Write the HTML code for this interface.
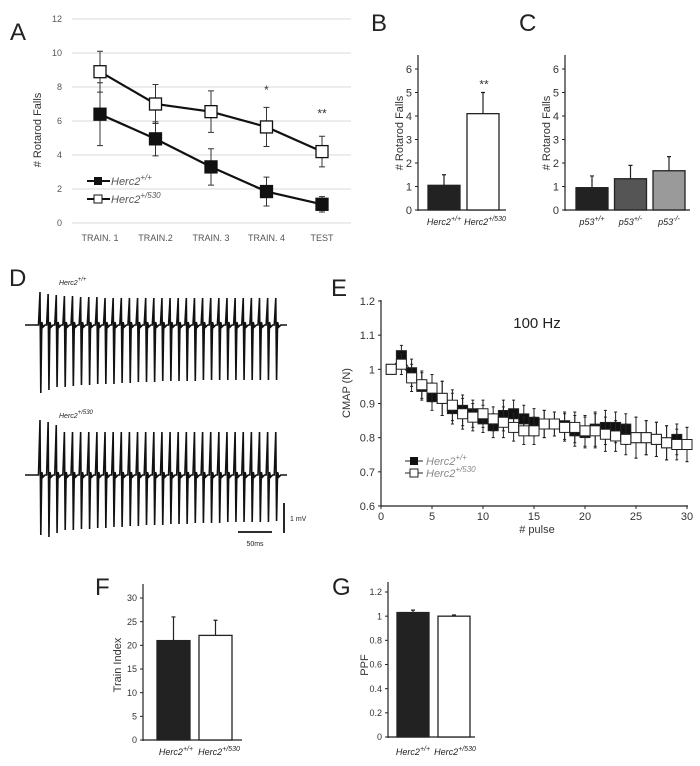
<!DOCTYPE html>
<html><head><meta charset="utf-8"><style>
html,body{margin:0;padding:0;background:#fff;}
svg{display:block;font-family:"Liberation Sans",Arial,sans-serif;}
</style></head><body>
<svg id="fig" width="700" height="766" viewBox="0 0 700 766" xmlns="http://www.w3.org/2000/svg">
<g id="gA"></g>
<g id="gB"></g>
<g id="gC"></g>
<g id="gD"></g>
<g id="gE"></g>
<g id="gF"></g>
<g id="gG"></g>
</svg>
<script>
// Panel A data
const aCategories = ["TRAIN. 1","TRAIN.2","TRAIN. 3","TRAIN. 4","TEST"];
const aWildValues = [6.4,4.95,3.3,1.85,1.1];
const aWildErr = [1.85,1.0,1.07,0.85,0.45];
const aMutValues = [8.9,7.0,6.55,5.65,4.2];
const aMutErr = [1.2,1.15,1.22,1.15,0.9];
const aTicks = [0,2,4,6,8,10,12];
// Panel B
const bCategories = ["+/+","+/530"];
const bValues = [1.05,4.1];
const bErr = [0.45,0.9];
// Panel C
const cCategories = ["+/+","+/-","-/-"];
const cValues = [0.95,1.33,1.67];
const cErr = [0.5,0.57,0.6];
const bcTicks = [0,1,2,3,4,5,6];
// Panel E
const ePulses = [1,2,3,4,5,6,7,8,9,10,11,12,13,14,15,16,17,18,19,20,21,22,23,24,25,26,27,28,29,30];
const eWild = [1.0,1.04,0.99,0.95,0.92,0.915,0.885,0.88,0.87,0.855,0.835,0.865,0.87,0.855,0.845,0.84,0.84,0.835,0.82,0.815,0.825,0.83,0.83,0.825,0.80,0.80,0.795,0.785,0.795,0.78];
const eMut = [1.0,1.015,0.975,0.955,0.945,0.915,0.895,0.87,0.86,0.87,0.855,0.845,0.83,0.82,0.82,0.84,0.84,0.83,0.83,0.82,0.82,0.81,0.805,0.795,0.80,0.80,0.795,0.785,0.78,0.78];
const eErr = [0,0.03,0.04,0.04,0.04,0.05,0.045,0.045,0.04,0.04,0.035,0.045,0.04,0.04,0.04,0.04,0.035,0.04,0.045,0.045,0.05,0.05,0.045,0.045,0.06,0.05,0.05,0.05,0.045,0.05];
const eXTicks = [0,5,10,15,20,25,30];
const eYTicks = [0.6,0.7,0.8,0.9,1,1.1,1.2];
// Panel D amplitude (relative)
const dTopUp = [33,31,30,29,29,28,28,28,27,27,27,27,27,27,27,27,27,27,27,27,27,27,27,27,27,27,27,27,27,27];
const dTopDown = [68,65,62,62,61,60,60,59,59,59,58,58,57,57,57,56,56,56,56,56,55,55,55,55,55,55,55,55,55,55];
const dBotUp = [55,53,50,43,43,43,43,43,43,43,43,43,43,43,43,43,43,43,43,43,43,43,43,43,43,43,43,43,43,43];
const dBotDown = [60,62,58,55,55,54,54,53,53,52,52,51,51,50,50,50,49,49,49,48,48,48,48,47,47,47,47,47,47,46];
// Panel F
const fValues = [21.0,22.1];
const fErr = [5.0,3.2];
const fTicks = [0,5,10,15,20,25,30];
// Panel G
const gValues = [1.03,1.0];
const gErr = [0.02,0.01];
const gTicks = [0,0.2,0.4,0.6,0.8,1,1.2];

const NS="http://www.w3.org/2000/svg";
function mk(parent,tag,attrs,text){const e=document.createElementNS(NS,tag);for(const k in attrs)e.setAttribute(k,attrs[k]);if(text!==undefined)e.textContent=text;parent.appendChild(e);return e;}
function lbl(parent,x,y,t,size,opts){const e=mk(parent,'text',Object.assign({x:x,y:y,'font-size':size,fill:'#222'},opts||{}),t);return e;}

// ---------- Panel A ----------
(function(){
const g=document.getElementById('gA');
const ya=v=>223-v*(204/12);
const xa=i=>100+i*55.5;
const t=lbl(g,10,40,'A',24);


aTicks.forEach(v=>{
 const l=mk(g,'line',{x1:72,x2:351,y1:ya(v),y2:ya(v),stroke:'#d9d9d9','stroke-width':1});
 
 
 const tx=lbl(g,62,ya(v)+3,String(v),9,{'text-anchor':'end',fill:'#555'});
 
 
});
aCategories.forEach((c,i)=>{
 const tx=lbl(g,xa(i),241,c,9,{'text-anchor':'middle',fill:'#555'});
 
 
});
const yl=lbl(g,0,0,'# Rotarod Falls',11,{'text-anchor':'middle',transform:'translate(41,130) rotate(-90)',fill:'#333'});


function series(vals,errs,fill,name){
 const pts=vals.map((v,i)=>xa(i)+','+ya(v)).join(' ');
 vals.forEach((v,i)=>{
  const e=mk(g,'path',{d:`M${xa(i)},${ya(v-errs[i])}V${ya(v+errs[i])}M${xa(i)-3},${ya(v-errs[i])}h6M${xa(i)-3},${ya(v+errs[i])}h6`,stroke:'#333','stroke-width':1,fill:'none'});
  
  
 });
 const pl=mk(g,'polyline',{points:pts,fill:'none',stroke:'#111','stroke-width':2.2});
 
 
 vals.forEach((v,i)=>{
  const r=mk(g,'rect',{x:xa(i)-6,y:ya(v)-6,width:12,height:12,fill:fill,stroke:'#111','stroke-width':1.3});
  
  
 });
}
series(aMutValues,aMutErr,'#fff','a-mutant');
series(aWildValues,aWildErr,'#111','a-wildtype');
const s1=lbl(g,xa(3),ya(7.6),'*',12,{'text-anchor':'middle',fill:'#333'});


const s2=lbl(g,xa(4),ya(6.2),'**',12,{'text-anchor':'middle',fill:'#333'});


// legend
const lg=mk(g,'g',{});


mk(lg,'line',{x1:87,x2:110,y1:181,y2:181,stroke:'#111','stroke-width':2});
mk(lg,'rect',{x:94,y:177,width:8,height:8,fill:'#111'});
const l1=lbl(lg,111,185,'Herc2',11,{'font-style':'italic',fill:'#555'});
mk(l1,'tspan',{dy:-5,'font-size':8},'+/+');
mk(lg,'line',{x1:87,x2:110,y1:199,y2:199,stroke:'#111','stroke-width':2});
mk(lg,'rect',{x:94,y:195,width:8,height:8,fill:'#fff',stroke:'#111'});
const l2=lbl(lg,111,203,'Herc2',11,{'font-style':'italic',fill:'#555'});
mk(l2,'tspan',{dy:-5,'font-size':8},'+/530');
})();

// ---------- bar helper ----------
function barPanel(g,opt){
 const y=v=>opt.y0-v*opt.scale;
 mk(g,'line',{x1:opt.ax,x2:opt.ax,y1:opt.top,y2:opt.y0+1,stroke:'#222','stroke-width':1.2});
 mk(g,'line',{x1:opt.ax,x2:opt.axEnd,y1:opt.y0,y2:opt.y0,stroke:'#222','stroke-width':1.2});
 opt.ticks.forEach(v=>{
  const tk=mk(g,'line',{x1:opt.ax-3,x2:opt.ax,y1:y(v),y2:y(v),stroke:'#222'});
  
  
  const tx=lbl(g,opt.ax-6,y(v)+opt.fs*0.35,String(v),opt.fs,{'text-anchor':'end',fill:'#333'});
  
  
 });
 opt.values.forEach((v,i)=>{
  const x=opt.x0+i*opt.step;
  const ex=x+opt.w/2;
  const e=mk(g,'path',{d:`M${ex},${y(v)}V${y(v+opt.err[i])}M${ex-2},${y(v+opt.err[i])}h4`,stroke:'#222','stroke-width':1.2});
  
  
  const r=mk(g,'rect',{x:x,y:y(v),width:opt.w,height:opt.y0-y(v),fill:opt.colors[i],stroke:'#222','stroke-width':1.3});
  
  
 });
 const yl=lbl(g,0,0,opt.ylabel,opt.yfs,{'text-anchor':'middle',transform:`translate(${opt.ylx},${opt.yly}) rotate(-90)`,fill:'#333'});
 
 
 return y;
}
function catLabel(g,x,y,base,sup,name){
 const t=lbl(g,x,y,base,9,{'text-anchor':'middle','font-style':'italic',fill:'#222'});
 mk(t,'tspan',{dy:-4,'font-size':7},sup);
 
 
}

// ---------- Panel B ----------
(function(){
const g=document.getElementById('gB');
const L=lbl(g,371,31,'B',24);


const y=barPanel(g,{ax:418,axEnd:506,top:55,y0:210,scale:23.5,ticks:bcTicks,values:bValues,err:bErr,x0:428,step:39,w:32,colors:['#222','#fff'],fs:11,ylabel:'# Rotarod Falls',yfs:11,ylx:403,yly:133,name:'b'});
catLabel(g,444,225,'Herc2',bCategories[0],'b-x-label-1');
catLabel(g,485,225,'Herc2',bCategories[1],'b-x-label-2');
const s=lbl(g,484,y(bValues[1]+bErr[1])-4,'**',12,{'text-anchor':'middle',fill:'#333'});


})();

// ---------- Panel C ----------
(function(){
const g=document.getElementById('gC');
const L=lbl(g,519,31,'C',24);


barPanel(g,{ax:565,axEnd:690,top:55,y0:210,scale:23.5,ticks:bcTicks,values:cValues,err:cErr,x0:576,step:38.5,w:32,colors:['#222','#555','#9a9a9a'],fs:11,ylabel:'# Rotarod Falls',yfs:11,ylx:550,yly:133,name:'c'});
cCategories.forEach((c,i)=>catLabel(g,592+i*38.5,225,'p53',c,'c-x-label-'+(i+1)));
})();

// ---------- Panel D ----------
(function(){
const g=document.getElementById('gD');
const L=lbl(g,9,286,'D',24);


function trace(base,ups,downs,name){
 let d=`M25,${base}`;
 ups.forEach((u,i)=>{
  const x=40+i*8.13;
  d+=`L${x-1.5},${base}L${x},${base-u}L${x+0.8},${base+downs[i]}L${x+1.8},${base-3}L${x+3},${base+2}L${x+5},${base}`;
 });
 d+='L287,'+base;
 const p=mk(g,'path',{d:d,fill:'none',stroke:'#111','stroke-width':1.6});
 
 
}
trace(325,dTopUp,dTopDown,'d-trace-wildtype');
trace(475,dBotUp,dBotDown,'d-trace-mutant');
const t1=lbl(g,59,285,'Herc2',7,{'font-style':'italic',fill:'#222'});
mk(t1,'tspan',{dy:-4,'font-size':6},'+/+');


const t2=lbl(g,59,418,'Herc2',7,{'font-style':'italic',fill:'#222'});
mk(t2,'tspan',{dy:-4,'font-size':6},'+/530');


const sb=mk(g,'path',{d:'M284,503V533M238,532H272',stroke:'#111','stroke-width':1.8});


const m=lbl(g,290,521,'1 mV',7);


const ms=lbl(g,255,546,'50ms',7,{'text-anchor':'middle'});


})();

// ---------- Panel E ----------
(function(){
const g=document.getElementById('gE');
const L=lbl(g,331,296,'E',24);


const x=v=>381+v*(306/30);
const y=v=>506-(v-0.6)*(205/0.6);
mk(g,'line',{x1:381,x2:381,y1:300,y2:506,stroke:'#222','stroke-width':1.2});
mk(g,'line',{x1:381,x2:688,y1:506,y2:506,stroke:'#222','stroke-width':1.2});
eYTicks.forEach(v=>{
 mk(g,'line',{x1:378,x2:381,y1:y(v),y2:y(v),stroke:'#222'});
 const t=lbl(g,375,y(v)+4,String(v),11,{'text-anchor':'end',fill:'#333'});
 
 
});
eXTicks.forEach(v=>{
 mk(g,'line',{x1:x(v),x2:x(v),y1:506,y2:509,stroke:'#222'});
 const t=lbl(g,x(v),520,String(v),11,{'text-anchor':'middle',fill:'#333'});
 
 
});
const xl=lbl(g,537,533,'# pulse',11,{'text-anchor':'middle',fill:'#333'});


const yl=lbl(g,0,0,'CMAP (N)',11,{'text-anchor':'middle',transform:'translate(350,393) rotate(-90)',fill:'#333'});


const tt=lbl(g,537,328,'100 Hz',15,{'text-anchor':'middle',fill:'#222'});


function ser(vals,fill,name){
 mk(g,'polyline',{points:vals.map((v,i)=>x(ePulses[i])+','+y(v)).join(' '),fill:'none',stroke:'#222','stroke-width':1});
 vals.forEach((v,i)=>{
  const xx=x(ePulses[i]),e=eErr[i];
  if(e>0){
   const p=mk(g,'path',{d:`M${xx},${y(v-e)}V${y(v+e)}M${xx-1.5},${y(v-e)}h3M${xx-1.5},${y(v+e)}h3`,stroke:'#222','stroke-width':1});
   
   
  }
 });
 vals.forEach((v,i)=>{
  const r=mk(g,'rect',{x:x(ePulses[i])-5,y:y(v)-5,width:10,height:10,fill:fill,stroke:'#222','stroke-width':1});
  
  
 });
}
ser(eWild,'#111','e-wildtype');
ser(eMut,'#fff','e-mutant');
const lg=mk(g,'g',{});


mk(lg,'line',{x1:405,x2:423,y1:461,y2:461,stroke:'#222'});
mk(lg,'rect',{x:410,y:457,width:8,height:8,fill:'#111'});
const a=lbl(lg,426,465,'Herc2',11,{'font-style':'italic',fill:'#888'});
mk(a,'tspan',{dy:-5,'font-size':8},'+/+');
mk(lg,'line',{x1:405,x2:423,y1:473,y2:473,stroke:'#222'});
mk(lg,'rect',{x:410,y:469,width:8,height:8,fill:'#fff',stroke:'#222'});
const b=lbl(lg,426,477,'Herc2',11,{'font-style':'italic',fill:'#888'});
mk(b,'tspan',{dy:-5,'font-size':8},'+/530');
})();

// ---------- Panel F ----------
(function(){
const g=document.getElementById('gF');
const L=lbl(g,95,595,'F',24);


barPanel(g,{ax:143,axEnd:242,top:584,y0:740,scale:142/30,ticks:fTicks,values:fValues,err:fErr,x0:157,step:42,w:33,colors:['#222','#fff'],fs:9,ylabel:'Train Index',yfs:11,ylx:121,yly:665,name:'f'});
catLabel(g,176,755,'Herc2','+/+','f-x-label-1');
catLabel(g,219,755,'Herc2','+/530','f-x-label-2');
})();

// ---------- Panel G ----------
(function(){
const g=document.getElementById('gG');
const L=lbl(g,332,595,'G',24);


barPanel(g,{ax:388,axEnd:475,top:582,y0:737,scale:145/1.2,ticks:gTicks,values:gValues,err:gErr,x0:397,step:41,w:32,colors:['#222','#fff'],fs:9,ylabel:'PPF',yfs:11,ylx:368,yly:665,name:'g'});
catLabel(g,413,755,'Herc2','+/+','g-x-label-1');
catLabel(g,455,755,'Herc2','+/530','g-x-label-2');
})();
</script>
</body></html>
